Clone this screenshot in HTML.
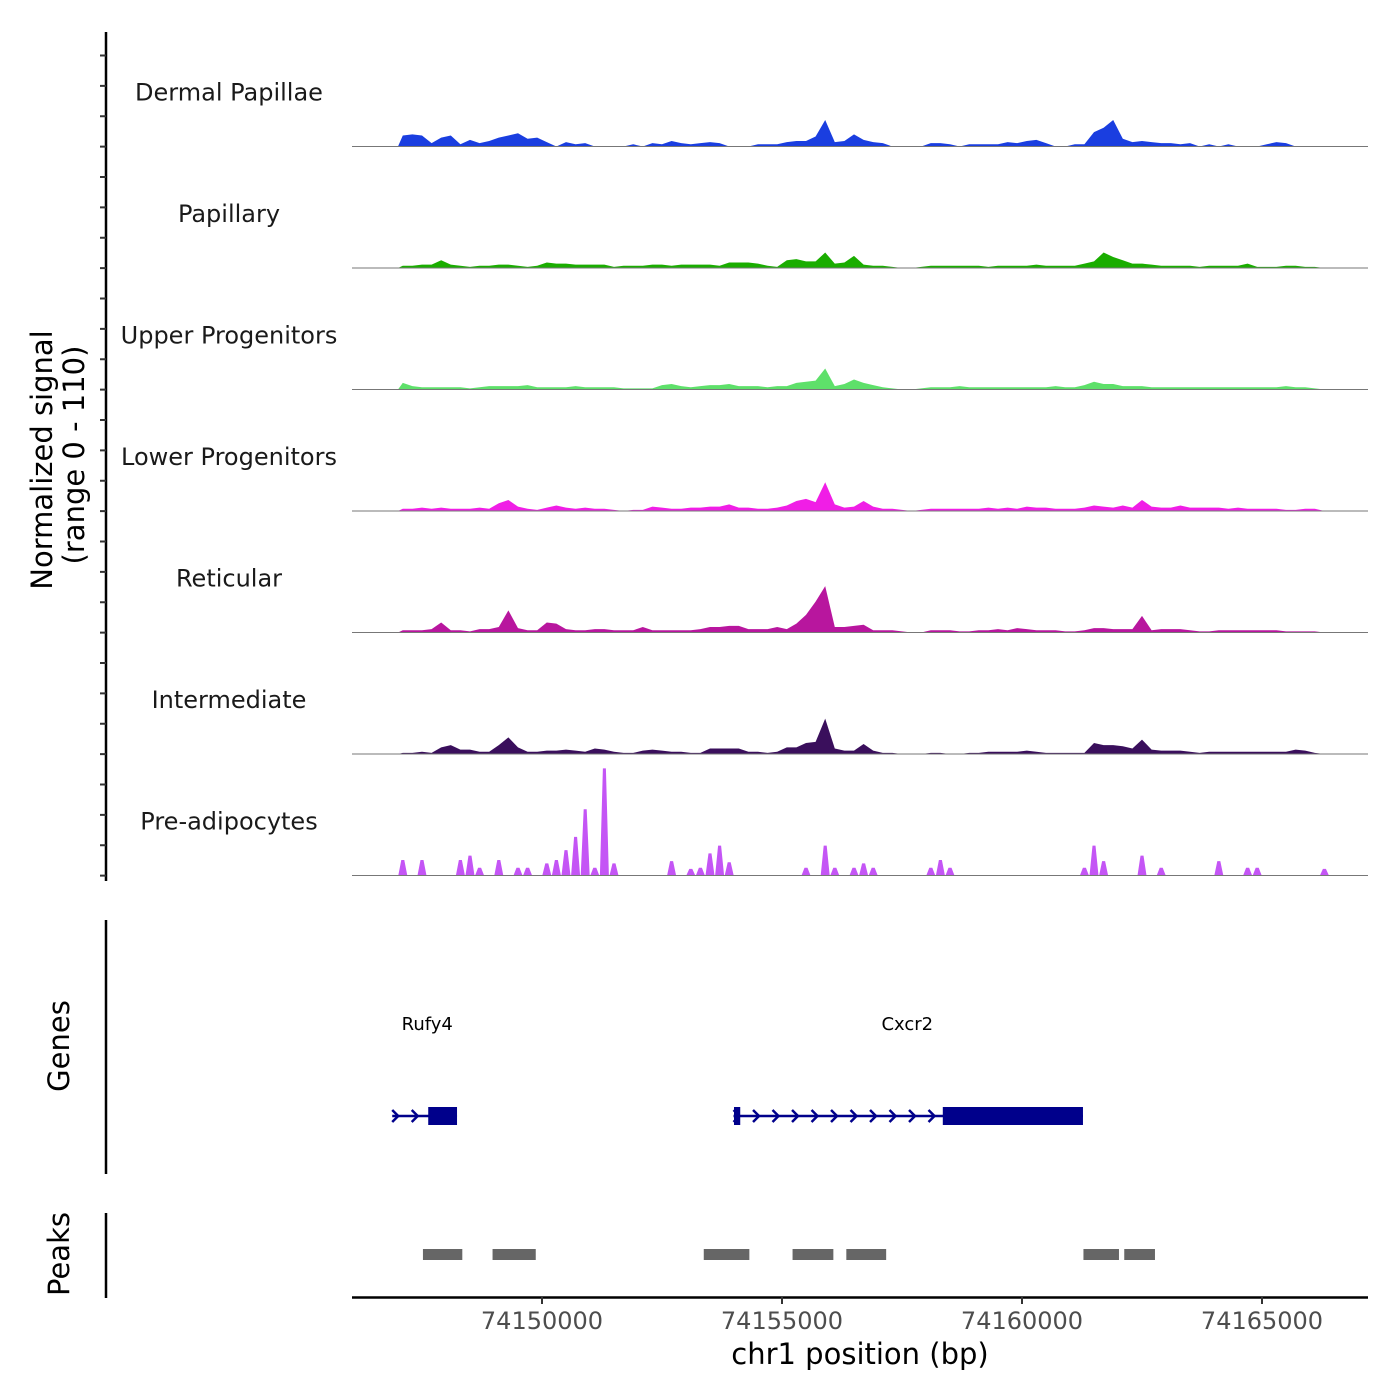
<!DOCTYPE html>
<html><head><meta charset="utf-8"><style>
html,body{margin:0;padding:0;background:#fff;}
svg{display:block;font-family:"DejaVu Sans","Liberation Sans",sans-serif;}
</style></head><body>
<svg id="chart" width="1400" height="1400" viewBox="0 0 1400 1400" xmlns="http://www.w3.org/2000/svg">
<rect width="1400" height="1400" fill="#fff"/>
<g id="tracks"></g>
<g id="yaxis"></g>
<text transform="translate(52,460) rotate(-90)" text-anchor="middle" font-size="29" fill="#000">Normalized signal</text>
<text transform="translate(84,455) rotate(-90)" text-anchor="middle" font-size="29" fill="#000">(range 0 - 110)</text>
<line x1="106" y1="920" x2="106" y2="1174" stroke="#000" stroke-width="2.5"/>
<text transform="translate(69,1046) rotate(-90)" text-anchor="middle" font-size="29" fill="#000">Genes</text>
<g id="genes"></g>
<line x1="106" y1="1213" x2="106" y2="1298" stroke="#000" stroke-width="2.5"/>
<text transform="translate(69,1254) rotate(-90)" text-anchor="middle" font-size="29" fill="#000">Peaks</text>
<g id="peaks"></g>
<g id="xaxis"></g>
<text x="860" y="1364" text-anchor="middle" font-size="29" fill="#000">chr1 position (bp)</text>
</svg>
<script>
const binStart = 74147000;
const binSize = 200;
const trackNames = ["Dermal Papillae","Papillary","Upper Progenitors","Lower Progenitors","Reticular","Intermediate","Pre-adipocytes"];
const trackColors = ["#1a3ee0","#1aad00","#5ee06a","#f01ee6","#b8169e","#3a0f5c","#c455f5"];
const dermalPapillae = [10,11,10,3,8,10,2,6,3,5,8,10,12,7,8,4,0,4,2,3,0,0,0,0,2,0,3,2,5,3,2,3,4,3,0,0,0,2,2,2,4,5,5,9,24,4,5,11,6,4,3,0,0,0,0,3,3,2,0,2,2,2,2,4,3,5,6,3,0,0,2,2,13,17,24,7,4,5,4,3,3,2,3,0,2,0,2,0,0,0,2,4,3,0,0,0,0];
const papillary = [2,2,3,3,7,3,2,1,2,2,3,3,2,1,2,5,4,4,3,3,3,3,1,2,2,2,3,3,2,3,3,3,3,2,5,5,5,4,2,1,7,8,6,6,14,4,5,11,3,2,2,1,0,0,1,2,2,2,2,2,2,1,2,2,2,2,3,2,2,2,2,4,6,14,10,7,4,4,3,2,2,2,2,1,2,2,2,2,4,1,1,1,2,2,1,1,0];
const upperProgenitors = [6,3,2,2,2,2,2,1,2,3,3,3,3,4,2,2,2,2,3,2,2,2,2,1,1,1,1,4,5,3,2,3,4,4,5,3,3,3,2,3,3,6,7,8,19,3,5,9,6,4,2,1,0,0,1,2,2,2,3,2,2,2,2,2,2,2,2,2,3,2,2,4,7,5,5,3,3,3,2,2,2,2,2,2,2,2,2,2,2,2,2,2,3,2,2,1,0];
const lowerProgenitors = [2,2,3,2,3,2,2,2,3,2,7,10,4,2,1,3,5,3,2,3,2,2,1,0,1,1,4,3,2,2,3,3,4,4,6,3,3,2,2,3,5,9,11,8,26,6,3,4,9,4,2,2,1,0,1,2,2,2,2,2,2,3,2,3,2,4,3,3,2,2,2,3,5,4,3,5,3,10,4,3,3,5,3,3,3,3,2,3,2,2,2,2,1,1,2,2,0];
const reticular = [2,2,2,3,9,2,2,1,3,3,5,20,4,2,2,9,8,3,2,2,3,3,2,2,2,5,2,2,2,2,2,3,5,5,6,6,3,3,3,5,3,8,16,28,42,5,5,6,7,2,2,2,1,0,0,2,2,2,1,1,2,2,3,2,4,3,2,2,2,1,1,2,4,4,3,3,3,15,2,3,3,3,2,1,1,2,2,2,2,2,2,2,1,1,1,1,0];
const intermediate = [1,1,2,1,6,8,4,4,2,2,8,15,6,2,2,3,3,4,3,2,5,4,2,1,1,3,4,3,2,2,1,1,5,5,5,5,2,2,1,2,6,6,10,11,32,5,3,3,9,3,1,1,0,0,0,1,1,0,0,1,1,2,2,2,2,3,2,1,1,1,1,1,10,8,8,7,5,13,4,3,3,3,2,1,2,2,2,2,2,2,2,2,2,4,3,1,0];
const preAdipocytes = [14,0,14,0,0,0,14,18,7,0,14,0,7,7,0,11,14,23,35,60,7,97,11,0,0,0,0,0,13,0,6,7,20,27,12,0,0,0,0,0,0,0,7,0,27,7,0,7,11,7,0,0,0,0,0,7,14,7,0,0,0,0,0,0,0,0,0,0,0,0,0,7,27,13,0,0,0,18,0,7,0,0,0,0,0,13,0,0,7,7,0,0,0,0,0,0,6];
const trackData = [dermalPapillae,papillary,upperProgenitors,lowerProgenitors,reticular,intermediate,preAdipocytes];
const yMax = 110;
const xTicks = [74150000,74155000,74160000,74165000];
const geneNames = ["Rufy4","Cxcr2"];
const geneStarts = [74146880,74153990];
const geneEnds = [74148230,74161270];
const geneLabelPos = [74147610,74157610];
const exonStarts = [[74147630],[74154000,74158350]];
const exonEnds = [[74148230],[74154130,74161270]];
const peakStarts = [74147520,74148970,74153370,74155220,74156340,74161280,74162130];
const peakEnds = [74148340,74149870,74154320,74156070,74157170,74162020,74162770];

const NS="http://www.w3.org/2000/svg";
const X0=352,X1=1368,BP0=74146042,BP1=74167208;
function xs(bp){return X0+(bp-BP0)/(BP1-BP0)*(X1-X0);}
const panelTop=25,panelH=121.5;
function baseY(t){return panelTop+panelH*(t+1);}
function ys(t,v){return baseY(t)-v/yMax*panelH;}
function mk(tag,attrs,parent){const e=document.createElementNS(NS,tag);for(const k in attrs)e.setAttribute(k,attrs[k]);parent.appendChild(e);return e;}

const tracks=document.getElementById('tracks');
trackData.forEach((arr,t)=>{
  const g=mk('g',{},tracks);
  
  
  const lbl=mk('text',{x:229,y:baseY(t)-46,'text-anchor':'middle','font-size':24,fill:'#1a1a1a'},g);
  lbl.textContent=trackNames[t];
  
  
  let d='';
  if(t===6){
    arr.forEach((v,i)=>{ if(v<=0)return;
      const c=xs(binStart+(i+0.5)*binSize);
      d+=`M${c-4.5},${baseY(t)}L${c-1.5},${ys(t,v)}L${c+1.5},${ys(t,v)}L${c+4.5},${baseY(t)}Z`;});
  } else {
    d=`M${xs(binStart)},${baseY(t)}`;
    arr.forEach((v,i)=>{d+=`L${xs(binStart+(i+0.5)*binSize)},${ys(t,v)}`;});
    d+=`L${xs(binStart+arr.length*binSize)},${baseY(t)}Z`;
  }
  const p=mk('path',{d:d,fill:trackColors[t]},g);
  
  
  const bl=mk('line',{x1:X0,x2:X1,y1:baseY(t),y2:baseY(t),stroke:'#777','stroke-width':1},g);
  
  
});

const ya=document.getElementById('yaxis');
const yl=mk('line',{x1:106,x2:106,y1:32,y2:881,stroke:'#000','stroke-width':2.5},ya);


for(let k=0;k<28;k++){
  const y=55.5+k*panelH/4;
  if(y>880)break;
  const tk=mk('line',{x1:100,x2:106,y1:y,y2:y,stroke:'#333','stroke-width':2},ya);
  
  
}

const genes=document.getElementById('genes');
const gy=1116;
geneNames.forEach((n,i)=>{
  const g=mk('g',{},genes);
  
  
  const t=mk('text',{x:xs(geneLabelPos[i]),y:1030,'text-anchor':'middle','font-size':18,fill:'#000'},g);
  t.textContent=n;
  
  
  const a=xs(geneStarts[i]),b=xs(geneEnds[i]);
  const ln=mk('line',{x1:a,x2:b,y1:gy,y2:gy,stroke:'#00008b','stroke-width':2.5},g);
  
  
  for(let x=a+4;x<b-4;x+=19.5){
    const ar=mk('path',{d:`M${x-4},${gy-6}L${x+2},${gy}L${x-4},${gy+6}`,fill:'none',stroke:'#00008b','stroke-width':2.5},g);
    
    
  }
  exonStarts[i].forEach((s,j)=>{
    const r=mk('rect',{x:xs(s),y:1107,width:xs(exonEnds[i][j])-xs(s),height:18,fill:'#00008b'},g);
    
    
  });
});

const pk=document.getElementById('peaks');
peakStarts.forEach((s,i)=>{
  const r=mk('rect',{x:xs(s),y:1249,width:xs(peakEnds[i])-xs(s),height:11,fill:'#666'},pk);
  
  
});

const xa=document.getElementById('xaxis');
const xl=mk('line',{x1:X0,x2:X1,y1:1297.5,y2:1297.5,stroke:'#000','stroke-width':2.5},xa);


xTicks.forEach(v=>{
  const x=xs(v);
  const tk=mk('line',{x1:x,x2:x,y1:1297,y2:1304,stroke:'#333','stroke-width':2},xa);
  
  
  const tl=mk('text',{x:x,y:1329,'text-anchor':'middle','font-size':24,fill:'#4d4d4d'},xa);
  tl.textContent=String(v);
  
  
});
</script>
</body></html>
